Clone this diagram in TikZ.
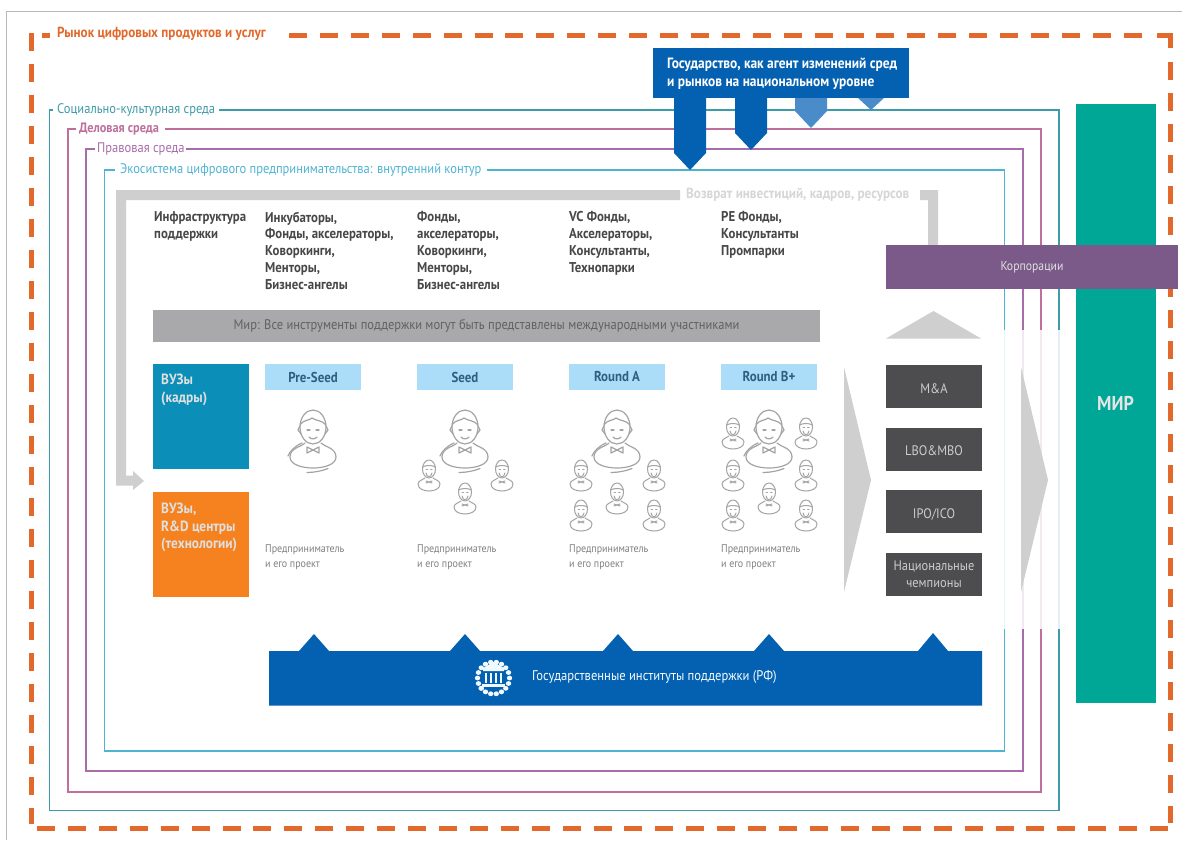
\documentclass[tikz,border=0pt]{standalone}
\usepackage{fontspec}
\setmainfont[FakeStretch=0.9]{PT Sans}
\definecolor{cOrange}{HTML}{E2692B}
\definecolor{cTeal}{HTML}{3F9BA8}
\definecolor{cBiz}{HTML}{BE6F9C}
\definecolor{cLaw}{HTML}{A66DAA}
\definecolor{cEco}{HTML}{4FB4D2}
\definecolor{cBlue}{HTML}{0461B1}
\definecolor{cBlueL}{HTML}{4A8CC9}
\definecolor{cGreen}{HTML}{00A696}
\definecolor{cPurple}{HTML}{7B5A8A}
\definecolor{cDark}{HTML}{4D4D4F}
\definecolor{cArrow}{HTML}{CFCFD0}
\definecolor{cBand}{HTML}{A9A9AC}
\definecolor{cSky}{HTML}{ABDDF8}
\definecolor{cSkyT}{HTML}{2F5F7E}
\definecolor{cPerson}{HTML}{A4A4A4}
\definecolor{cUni}{HTML}{0B8FB9}
\definecolor{cUniO}{HTML}{F5821F}
\tikzset{
  envline/.style={line width=1.4pt,line join=miter},
  dashout/.style={cOrange,line width=5pt,dash pattern=on 18pt off 12.92pt},
  lab/.style={inner sep=0,anchor=west,font=\fontsize{13.9}{15}\selectfont},
  labb/.style={inner sep=0,anchor=west,font=\fontsize{14.6}{16}\selectfont\bfseries},
  collab/.style={inner sep=0,anchor=north west,align=left,text=black!72,
     font=\fontsize{14.2}{16.8}\selectfont\bfseries},
  exitbox/.style={fill=cDark,minimum width=96pt,minimum height=43pt,inner sep=0,text=white!80!black,
     align=center,font=\fontsize{13.8}{17.5}\selectfont},
  exitone/.style={exitbox,text height=13pt,text depth=0pt},
  stagebox/.style={fill=cSky,minimum width=96pt,minimum height=26pt,inner sep=0,text=cSkyT,
     font=\fontsize{14.3}{16}\selectfont\bfseries},
  unibox/.style={minimum width=96pt,minimum height=105pt,inner sep=0},
  unitext/.style={inner sep=0,anchor=north west,align=left,text=white!88!black,
     font=\fontsize{14.8}{17.5}\selectfont\bfseries},
  perstext/.style={inner sep=0,anchor=north west,align=left,text=black!50,
     font=\fontsize{11.1}{15}\selectfont},
  person/.pic={
    \begin{scope}[cPerson,line width=1.2pt,line cap=round,line join=round]
    \draw (0,17) ellipse [x radius=13,y radius=17];
    \draw (-13,15) .. controls (-9,9) and (-4,11) .. (-1,8) .. controls (3,11) and (9,10) .. (13,15);
    \draw (-13,16) -- (-15,20) -- (-12,24);
    \draw (13,16) -- (15,20) -- (12,24);
    \draw (-6,20) -- (-3,20) (3,20) -- (6,20);
    \draw (-4,27) .. controls (-2,29.5) and (2,29.5) .. (4,27);
    \draw (-8,33) .. controls (-12,37) and (-23,38) .. (-23,47)
          .. controls (-23,55) and (-10,58) .. (0,58)
          .. controls (10,58) and (23,55) .. (23,47)
          .. controls (23,38) and (12,37) .. (8,33);
    \draw (0,40) -- (-6,37) -- (-6,43) -- cycle (0,40) -- (6,37) -- (6,43) -- cycle;
    \draw (-25,46) .. controls (-23,41) and (-18,36) .. (-11,33);
    \draw (-6,62.5) .. controls (1,62.5) and (9,61) .. (15,58.5);
    \end{scope}
  },
  smallperson/.pic={
    \begin{scope}[cPerson,line width=1pt,line cap=round,line join=round]
    \draw (0,9) ellipse [x radius=6.5,y radius=9];
    \draw (-6.5,7) .. controls (-3,5) and (3,5) .. (6.5,7);
    \draw (-3,9) -- (-1.5,9) (1.5,9) -- (3,9);
    \draw (-3,13) .. controls (-2,18) and (2,18) .. (3,13);
    \draw (-4,18) .. controls (-7,20) and (-11,21) .. (-11,24)
          .. controls (-11,29) and (-5,31) .. (0,31)
          .. controls (5,31) and (11,29) .. (11,24)
          .. controls (11,21) and (7,20) .. (4,18);
    \draw (-3,21) -- (3,23) (3,21) -- (-3,23);
    \end{scope}
  }
}
\begin{document}
\begin{tikzpicture}[x=1pt,y=-1pt]
\useasboundingbox (0,0) rectangle (1182,840);
\fill[white] (0,0) rectangle (1182,840);
\draw[black!28,line width=.9pt] (6.5,840) -- (6.5,11.5) -- (1182,11.5);

% outer dashed market frame
\draw[dashout,dash pattern=on 18pt off 13pt] (31,33) -- (31,824);
\draw[dashout] (37,828) -- (1168,828);
\draw[dashout] (289,36) -- (1145,36);
\draw[cOrange,line width=5pt] (1157,36) -- (1172.5,36) (1170,33.5) -- (1170,48);
\draw[dashout,dash pattern=on 18pt off 13pt] (1170,62) -- (1170,823);
\fill[cOrange] (42,33) rectangle (50,38);
\node[labb,text=cOrange] (tMarket) at (57,33.5) {Рынок цифровых продуктов и услуг};

% environment frames
\draw[envline,cTeal] (53,110) -- (49.5,110) -- (49.5,810.5) -- (1059,810.5) -- (1059,110) -- (219,110);
\draw[envline,cBiz] (76,129) -- (68,129) -- (68,792) -- (1041,792) -- (1041,129) -- (165,129);
\draw[envline,cLaw] (95,149) -- (86,149) -- (86,771) -- (1023,771) -- (1023,149) -- (186,149);
\draw[envline,cEco] (115,170) -- (104.5,170) -- (104.5,751) -- (1004.5,751) -- (1004.5,170) -- (487,170);
\node[lab,text=cTeal] (tSoc) at (57,110) {Социально-культурная среда};
\node[labb,font=\fontsize{13.6}{15}\selectfont\bfseries,text=cBiz] (tBiz) at (79,129.5) {Деловая среда};
\node[lab,text=cLaw] (tLaw) at (97,149) {Правовая среда};
\node[lab,text=cEco] (tEco) at (120,170) {Экосистема цифрового предпринимательства: внутренний контур};

% fade of the frames behind the exits
\fill[white,opacity=.85] (998,330) rectangle (1066,629);

% state box with down arrows
\fill[cBlueL] (795,98) -- (827,98) -- (827,111) -- (811,128) -- (795,111) -- cycle;
\fill[cBlueL] (858,98) -- (884,98) -- (871,110) -- cycle;
\fill[cBlue] (674,98) -- (706,98) -- (706,153) -- (690,170) -- (674,153) -- cycle;
\fill[cBlue] (735,98) -- (767,98) -- (767,133) -- (751,150) -- (735,133) -- cycle;
\node[fill=cBlue,minimum width=256pt,minimum height=50pt,inner sep=0] (state) at (781,73) {};
\node[inner sep=0,anchor=west,align=left,text=white,font=\fontsize{14.9}{18}\selectfont\bfseries] (stateT) at (667,73.5)
  {Государство, как агент изменений сред\\и рынков на национальном уровне};

% feedback arrow
\fill[cArrow] (116,190) -- (680,190) -- (680,200) -- (126,200) -- (126,475.5) -- (133,475.5) -- (133,471)
   -- (144,481) -- (133,490) -- (133,485.5) -- (116,485.5) -- cycle;
\fill[cArrow] (920,190) -- (938,190) -- (938,245) -- (928,245) -- (928,200) -- (920,200) -- cycle;
\node[labb,text=black!16] (tBack) at (686,195) {Возврат инвестиций, кадров, ресурсов};

% infrastructure columns
\node[collab] (c0) at (154,211.5) {Инфраструктура\\поддержки};
\node[collab] (c1) at (265,211.5) {Инкубаторы,\\Фонды, акселераторы,\\Коворкинги,\\Менторы,\\Бизнес-ангелы};
\node[collab] (c2) at (417,211.5) {Фонды,\\акселераторы,\\Коворкинги,\\Менторы,\\Бизнес-ангелы};
\node[collab] (c3) at (569,211.5) {VC Фонды,\\Акселераторы,\\Консультанты,\\Технопарки};
\node[collab] (c4) at (721,211.5) {PE Фонды,\\Консультанты\\Промпарки};

% world band
\node[fill=cBand,minimum width=667pt,minimum height=32pt,inner sep=0,text=black!62,font=\fontsize{13.9}{15}\selectfont] (band) at (486.5,326)
  {Мир: Все инструменты поддержки могут быть представлены международными участниками};

% universities
\node[unibox,fill=cUni] (uni1) at (201,416.5) {};
\node[unibox,fill=cUniO] (uni2) at (201,544.5) {};
\node[unitext] (uni1T) at (161,374) {ВУЗы\\(кадры)};
\node[unitext] (uni2T) at (161,503) {ВУЗы,\\R\&D центры\\(технологии)};

% stages
\node[stagebox] (s1) at (313,377) {Pre-Seed};
\node[stagebox] (s2) at (465,377) {Seed};
\node[stagebox] (s3) at (617,377) {Round A};
\node[stagebox] (s4) at (769,377) {Round B+};

% persons
\pic at (313,410) {person};
\pic at (465,410) {person};
\pic at (617,410) {person};
\pic at (769,410) {person};
\pic at (429,460) {smallperson};
\pic at (502,460) {smallperson};
\pic at (465,483) {smallperson};
\pic at (581,460) {smallperson};
\pic at (654,460) {smallperson};
\pic at (617,483) {smallperson};
\pic at (581,500) {smallperson};
\pic at (654,500) {smallperson};
\pic at (733,418) {smallperson};
\pic at (806,418) {smallperson};
\pic at (733,460) {smallperson};
\pic at (806,460) {smallperson};
\pic at (769,483) {smallperson};
\pic at (733,500) {smallperson};
\pic at (806,500) {smallperson};

\node[perstext] (p1) at (265,545) {Предприниматель\\и его проект};
\node[perstext] (p2) at (417,545) {Предприниматель\\и его проект};
\node[perstext] (p3) at (569,545) {Предприниматель\\и его проект};
\node[perstext] (p4) at (721,545) {Предприниматель\\и его проект};

% big chevrons
\fill[cArrow] (844,367) -- (871,480) -- (844,592) -- cycle;
\fill[cArrow] (1021,367) -- (1048,480) -- (1021,592) -- cycle;
\fill[cArrow] (933.5,311) -- (981,338.5) -- (886,338.5) -- cycle;

% exits
\node[exitone] (e1) at (934,386.5) {M\&A};
\node[exitone] (e2) at (934,449) {LBO\&MBO};
\node[exitone] (e3) at (934,511.5) {IPO/ICO};
\node[exitbox] (e4) at (934,574) {Национальные\\чемпионы};

% world column and corporations
\node[fill=cGreen,minimum width=80pt,minimum height=599pt,inner sep=0,text=white!90!black,font=\fontsize{20}{22}\selectfont\bfseries] (world) at (1115.5,403.5) {МИР};
\node[fill=cPurple,minimum width=292pt,minimum height=44pt,inner sep=0,text=white!88!black,font=\fontsize{13}{15}\selectfont] (corp) at (1032,267) {Корпорации};

% state institutions bar
\fill[cBlue] (269,651) -- (299,651) -- (314,634) -- (329,651) -- (450,651) -- (465,634) -- (480,651)
  -- (603,651) -- (618,634) -- (633,651) -- (754,651) -- (769,634) -- (784,651) -- (918,651) -- (933,633) -- (948,651)
  -- (982,651) -- (982,705.5) -- (269,705.5) -- cycle;
\node[inner sep=0,anchor=west,text=white!88!cSky,font=\fontsize{14}{15}\selectfont] (gov) at (532,677) {Государственные институты поддержки (РФ)};
% emblem
\begin{scope}[white!82!cSky]
  \foreach \a in {-130,-110,-90,-70,-50,-30,-10,10,30,50,70,90,110,130,150,170,190,210,230}{
    \fill (493.5,678) ++(\a-90:16) ellipse [x radius=2.7,y radius=2.4];
  }
  \fill (483,668) -- (493.5,662) -- (504,668) -- (504,671) -- (483,671) -- cycle;
  \foreach \x in {484.5,489.5,494.5,499.5}{\fill (\x,672.5) rectangle ++(2.6,10);}
  \fill (482,683.5) rectangle (505,686.5);
\end{scope}
\end{tikzpicture}
\end{document}
